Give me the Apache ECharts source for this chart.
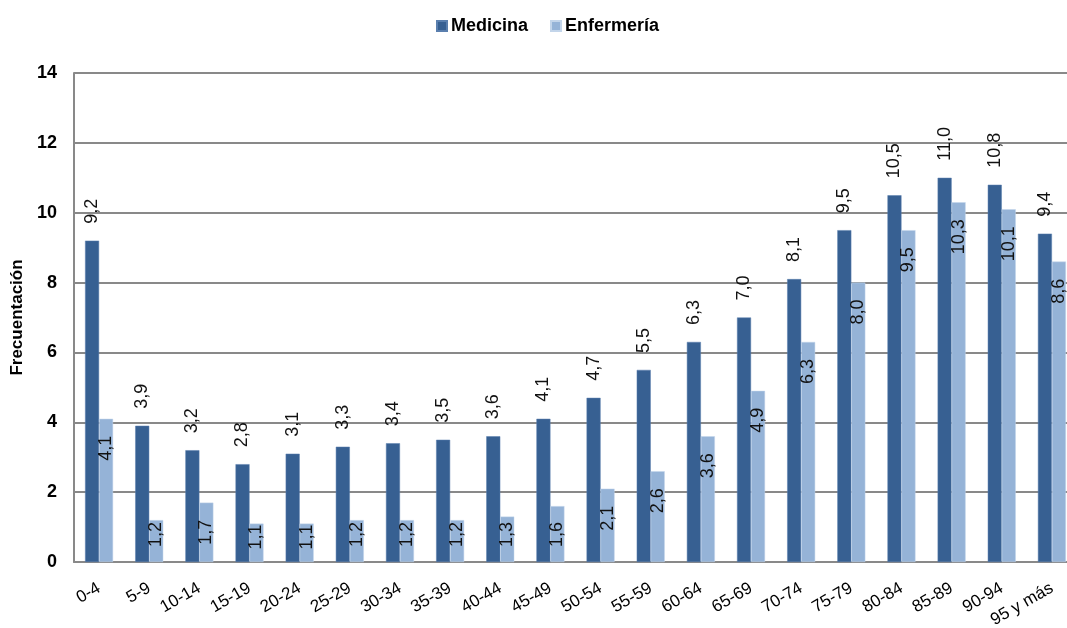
<!DOCTYPE html>
<html>
<head>
<meta charset="utf-8">
<script src="https://cdn.jsdelivr.net/npm/echarts@6/dist/echarts.min.js"></script>
<style>
html,body{margin:0;padding:0;background:#fff;}
#main{width:1067px;height:628px;}
</style>
</head>
<body>
<div id="main"></div>
<script>
const categories = ['0-4','5-9','10-14','15-19','20-24','25-29','30-34','35-39','40-44','45-49','50-54','55-59','60-64','65-69','70-74','75-79','80-84','85-89','90-94','95 y más'];
const medicina = [9.2,3.9,3.2,2.8,3.1,3.3,3.4,3.5,3.6,4.1,4.7,5.5,6.3,7.0,8.1,9.5,10.5,11.0,10.8,9.4];
const enfermeria = [4.1,1.2,1.7,1.1,1.1,1.2,1.2,1.2,1.3,1.6,2.1,2.6,3.6,4.9,6.3,8.0,9.5,10.3,10.1,8.6];
const yTicks = {min:0, max:14, interval:2};

const FONT = '"Liberation Sans", Arial, Helvetica, sans-serif';
const fmt = p => p.value.toFixed(1).replace('.', ',');

const chart = echarts.init(document.getElementById('main'), null, {renderer:'canvas'});

function buildOption(enfData){
  return {
    animation:false,
    backgroundColor:'#ffffff',
    textStyle:{fontFamily:FONT},
    legend:{
      top:12, left:431,
      itemWidth:10, itemHeight:10, itemGap:22,
      icon:'rect',
      textStyle:{fontFamily:FONT, fontSize:18, fontWeight:'bold', color:'#000', padding:[0,0,0,-1]},
      data:['Medicina','Enfermería']
    },
    grid:{left:74, right:-10, top:73, bottom:66, containLabel:false, outerBoundsMode:'none'},
    xAxis:{
      type:'category', data:categories,
      axisLine:{lineStyle:{color:'#898989', width:2}},
      axisTick:{show:false},
      axisLabel:{interval:0, rotate:30, margin:25, fontFamily:FONT, fontSize:17, color:'#000'}
    },
    yAxis:{
      type:'value', min:yTicks.min, max:yTicks.max, interval:yTicks.interval,
      name:'Frecuentación', nameLocation:'middle', nameGap:47, nameRotate:90,
      nameTextStyle:{fontFamily:FONT, fontSize:17, fontWeight:'bold', color:'#000'},
      axisLine:{show:true, lineStyle:{color:'#898989', width:2}},
      axisTick:{show:false},
      axisLabel:{margin:17, fontFamily:FONT, fontSize:18, fontWeight:'bold', color:'#000'},
      splitLine:{lineStyle:{color:'#898989', width:2}}
    },
    series:[
      {
        name:'Medicina', type:'bar', data:medicina,
        barWidth:14, barGap:'0%',
        itemStyle:{color:'#376092', borderColor:'#5a7fae', borderWidth:0.5},
        label:{show:true, position:'top', distance:17, rotate:90, align:'left', verticalAlign:'middle',
               formatter:fmt, fontFamily:FONT, fontSize:18, color:'#111'}
      },
      {
        name:'Enfermería', type:'bar', data:enfData,
        barWidth:14, barGap:'0%',
        itemStyle:{color:'#95B3D7', borderColor:'#c3d5ea', borderWidth:0.5},
        label:{show:true, position:'insideTop', distance:17, rotate:90, align:'right', verticalAlign:'middle',
               formatter:fmt, fontFamily:FONT, fontSize:18, color:'#111'}
      }
    ]
  };
}

chart.setOption(buildOption(enfermeria));
// adjust label distance so inside labels stay within short bars
const y0 = chart.convertToPixel({yAxisIndex:0}, 0);
const enfItems = enfermeria.map(v => {
  const h = y0 - chart.convertToPixel({yAxisIndex:0}, v);
  const d = Math.max(1, Math.min(17, h - 40));
  return {value:v, label:{distance:d}};
});
chart.setOption(buildOption(enfItems));
</script>
</body>
</html>
